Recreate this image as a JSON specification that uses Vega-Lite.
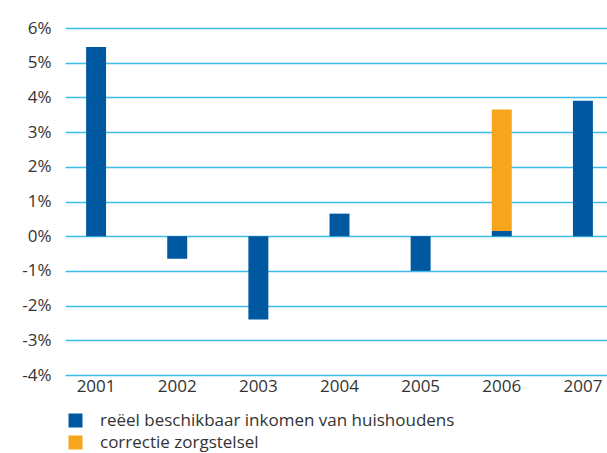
{
  "$schema": "https://vega.github.io/schema/vega-lite/v6.json",
  "autosize": "none",
  "padding": {"left": 65, "top": 28, "right": 0, "bottom": 78},
  "width": 549,
  "height": 347,
  "background": "white",
  "config": {
    "view": {"stroke": null},
    "font": "Open Sans",
    "axis": {"labelFont": "Open Sans", "labelColor": "#333333", "labelFontSize": 17},
    "legend": {"labelFont": "Open Sans", "labelColor": "#333333", "labelFontSize": 17, "labelLimit": 500}
  },
  "data": {
    "values": [
      {"year": "2001", "series": "reëel beschikbaar inkomen van huishoudens", "value": 5.45},
      {"year": "2002", "series": "reëel beschikbaar inkomen van huishoudens", "value": -0.65},
      {"year": "2003", "series": "reëel beschikbaar inkomen van huishoudens", "value": -2.4},
      {"year": "2004", "series": "reëel beschikbaar inkomen van huishoudens", "value": 0.65},
      {"year": "2005", "series": "reëel beschikbaar inkomen van huishoudens", "value": -1.0},
      {"year": "2006", "series": "reëel beschikbaar inkomen van huishoudens", "value": 0.15},
      {"year": "2006", "series": "correctie zorgstelsel", "value": 3.5},
      {"year": "2007", "series": "reëel beschikbaar inkomen van huishoudens", "value": 3.9}
    ]
  },
  "mark": {"type": "bar"},
  "encoding": {
    "x": {
      "field": "year",
      "type": "ordinal",
      "title": null,
      "scale": {"paddingInner": 0.754, "paddingOuter": 0.26},
      "axis": {"labelAngle": 0, "domain": false, "ticks": false, "labelPadding": 3}
    },
    "y": {
      "field": "value",
      "type": "quantitative",
      "stack": true,
      "title": null,
      "scale": {"domain": [-4, 6], "nice": false},
      "axis": {
        "values": [-4, -3, -2, -1, 0, 1, 2, 3, 4, 5, 6],
        "labelExpr": "datum.value + '%'",
        "domain": false,
        "ticks": false,
        "labelPadding": 14,
        "grid": true,
        "gridColor": "#3dbbe9",
        "gridWidth": 1.5,
        "gridOpacity": 1
      }
    },
    "color": {
      "field": "series",
      "type": "nominal",
      "scale": {
        "domain": ["reëel beschikbaar inkomen van huishoudens", "correctie zorgstelsel"],
        "range": ["#0059a0", "#f7a51d"]
      },
      "legend": {
        "title": null,
        "orient": "none",
        "legendX": 2,
        "legendY": 384,
        "symbolType": "square",
        "symbolSize": 196,
        "symbolStrokeWidth": 0,
        "labelOffset": 16,
        "rowPadding": 4
      }
    },
    "order": {"field": "series", "sort": "descending"}
  }
}
